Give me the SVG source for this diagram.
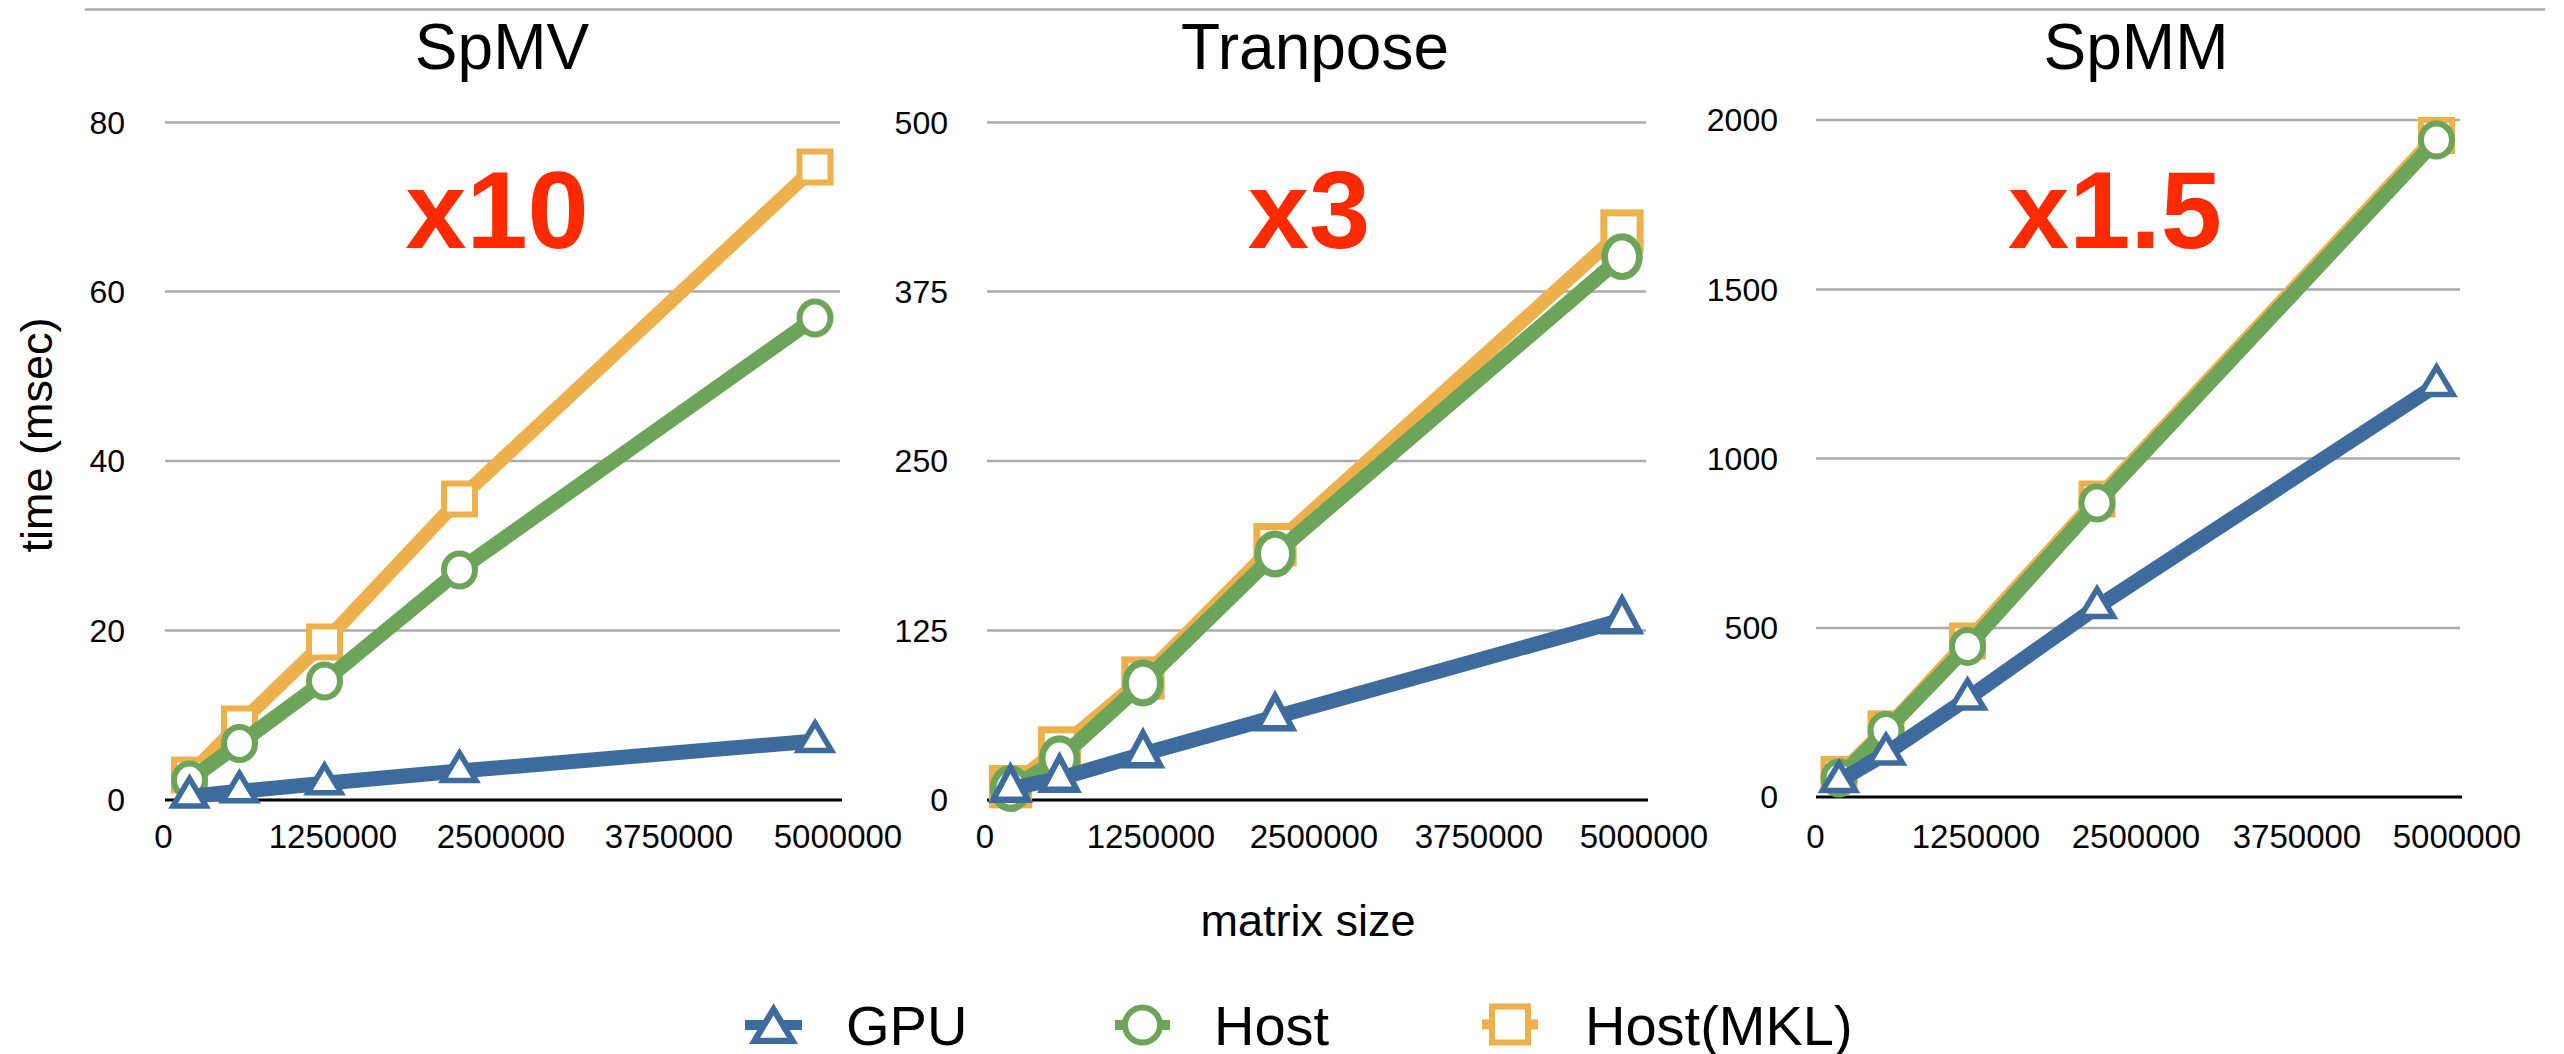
<svg xmlns="http://www.w3.org/2000/svg" xmlns:xlink="http://www.w3.org/1999/xlink" width="2564" height="1054" viewBox="0 0 2564 1054">
  <style>
    text { font-family: "Liberation Sans", Arial, Helvetica, sans-serif; fill: #000; }
    .title { font-size: 64px; text-anchor: middle; }
    .ytick { font-size: 32px; text-anchor: end; }
    .xtick { font-size: 33px; text-anchor: middle; }
    .axislabel { font-size: 45px; text-anchor: middle; }
    .speedup { font-size: 110px; font-weight: bold; fill: #FF2A00; text-anchor: middle; }
    .legend { font-size: 56px; }
    .grid { stroke: #ABABAB; stroke-width: 2.5; fill: none; }
    .axis { stroke: #000; stroke-width: 3; fill: none; }
    .frame { stroke: #ABABAB; stroke-width: 2.5; fill: none; }
    .l-mkl { stroke: #EDB04B; stroke-width: 14; fill: none; stroke-linejoin: round; }
    .l-host { stroke: #6CA559; stroke-width: 15; fill: none; stroke-linejoin: round; }
    .l-gpu { stroke: #3D6B9D; stroke-width: 15; fill: none; stroke-linejoin: round; }
    .m-mkl { fill: #fff; stroke: #EDB04B; stroke-width: 6; }
    .m-host { fill: #fff; stroke: #6CA559; stroke-width: 6; }
    .m-gpu { fill: #fff; stroke: #3D6B9D; stroke-width: 5.5; stroke-linejoin: miter; }
  </style>
  <defs>
    <rect id="sq" x="-15.5" y="-15.5" width="31" height="31"/>
    <ellipse id="dot" rx="15.5" ry="16.5"/>
    <path id="tri" d="M0,-18 L16.5,9.5 L-16.5,9.5 Z"/>
  </defs>

  <rect width="2564" height="1054" fill="#fff"/>
  <line class="frame" x1="85" y1="9.5" x2="2545" y2="9.5"/>

  <!-- Panel 1: SpMV -->
  <g id="panel-spmv">
    <text class="title" x="502" y="69">SpMV</text>
    <g id="spmv-grid">
      <line class="grid" x1="165" y1="122.5" x2="840" y2="122.5"/>
      <line class="grid" x1="165" y1="291.5" x2="840" y2="291.5"/>
      <line class="grid" x1="165" y1="461" x2="840" y2="461"/>
      <line class="grid" x1="165" y1="630.5" x2="840" y2="630.5"/>
      <line class="axis" x1="165" y1="800" x2="842" y2="800"/>
    </g>
    <g id="spmv-yticks">
      <text class="ytick" x="125" y="133.5">80</text>
      <text class="ytick" x="125" y="302.5">60</text>
      <text class="ytick" x="125" y="472">40</text>
      <text class="ytick" x="125" y="641.5">20</text>
      <text class="ytick" x="125" y="811">0</text>
    </g>
    <g id="spmv-xticks">
      <text class="xtick" x="163.5" y="848">0</text>
      <text class="xtick" x="333" y="848">1250000</text>
      <text class="xtick" x="501" y="848">2500000</text>
      <text class="xtick" x="669" y="848">3750000</text>
      <text class="xtick" x="838" y="848">5000000</text>
    </g>
    <text class="speedup" x="497" y="248">x10</text>
    <g id="spmv-mkl">
      <polyline class="l-mkl" points="189.5,775 239.5,724 324.5,642 459.5,499 815,167"/>
      <use xlink:href="#sq" class="m-mkl" x="189.5" y="775"/>
      <use xlink:href="#sq" class="m-mkl" x="239.5" y="724"/>
      <use xlink:href="#sq" class="m-mkl" x="324.5" y="642"/>
      <use xlink:href="#sq" class="m-mkl" x="459.5" y="499"/>
      <use xlink:href="#sq" class="m-mkl" x="815" y="167"/>
    </g>
    <g id="spmv-host">
      <polyline class="l-host" points="189.5,780 239.5,743.5 324.5,681 459.5,570 815,318"/>
      <use xlink:href="#dot" class="m-host" x="189.5" y="780"/>
      <use xlink:href="#dot" class="m-host" x="239.5" y="743.5"/>
      <use xlink:href="#dot" class="m-host" x="324.5" y="681"/>
      <use xlink:href="#dot" class="m-host" x="459.5" y="570"/>
      <use xlink:href="#dot" class="m-host" x="815" y="318"/>
    </g>
    <g id="spmv-gpu">
      <polyline class="l-gpu" points="189.5,796.5 239.5,791.3 324.5,783.3 459.5,771 815,741"/>
      <use xlink:href="#tri" class="m-gpu" x="189.5" y="796.5"/>
      <use xlink:href="#tri" class="m-gpu" x="239.5" y="791.3"/>
      <use xlink:href="#tri" class="m-gpu" x="324.5" y="783.3"/>
      <use xlink:href="#tri" class="m-gpu" x="459.5" y="771"/>
      <use xlink:href="#tri" class="m-gpu" x="815" y="741"/>
    </g>
  </g>

  <!-- Panel 2: Tranpose (slightly larger markers) -->
  <g id="panel-transpose">
    <text class="title" x="1315" y="69">Tranpose</text>
    <g id="transpose-grid">
      <line class="grid" x1="987" y1="122.5" x2="1646" y2="122.5"/>
      <line class="grid" x1="987" y1="291.5" x2="1646" y2="291.5"/>
      <line class="grid" x1="987" y1="461" x2="1646" y2="461"/>
      <line class="grid" x1="987" y1="630.5" x2="1646" y2="630.5"/>
      <line class="axis" x1="987" y1="800" x2="1648" y2="800"/>
    </g>
    <g id="transpose-yticks">
      <text class="ytick" x="948" y="133.5">500</text>
      <text class="ytick" x="948" y="302.5">375</text>
      <text class="ytick" x="948" y="472">250</text>
      <text class="ytick" x="948" y="641.5">125</text>
      <text class="ytick" x="948" y="811">0</text>
    </g>
    <g id="transpose-xticks">
      <text class="xtick" x="985" y="848">0</text>
      <text class="xtick" x="1151" y="848">1250000</text>
      <text class="xtick" x="1314" y="848">2500000</text>
      <text class="xtick" x="1479" y="848">3750000</text>
      <text class="xtick" x="1644" y="848">5000000</text>
    </g>
    <text class="speedup" x="1309" y="248">x3</text>
    <g id="transpose-mkl">
      <polyline class="l-mkl" points="1010.5,786.7 1059.5,748 1143,678 1275,544.7 1622,231"/>
      <use xlink:href="#sq" class="m-mkl" transform="translate(1010.5,786.7) scale(1.17)"/>
      <use xlink:href="#sq" class="m-mkl" transform="translate(1059.5,748) scale(1.17)"/>
      <use xlink:href="#sq" class="m-mkl" transform="translate(1143,678) scale(1.17)"/>
      <use xlink:href="#sq" class="m-mkl" transform="translate(1275,544.7) scale(1.17)"/>
      <use xlink:href="#sq" class="m-mkl" transform="translate(1622,231) scale(1.17)"/>
    </g>
    <g id="transpose-host">
      <polyline class="l-host" points="1010.5,788.5 1059.5,758.7 1143,683 1275,554 1622,256.7"/>
      <use xlink:href="#dot" class="m-host" transform="translate(1010.5,788.5) scale(1.12,1.2)"/>
      <use xlink:href="#dot" class="m-host" transform="translate(1059.5,758.7) scale(1.12,1.2)"/>
      <use xlink:href="#dot" class="m-host" transform="translate(1143,683) scale(1.12,1.2)"/>
      <use xlink:href="#dot" class="m-host" transform="translate(1275,554) scale(1.12,1.2)"/>
      <use xlink:href="#dot" class="m-host" transform="translate(1622,256.7) scale(1.12,1.2)"/>
    </g>
    <g id="transpose-gpu">
      <polyline class="l-gpu" points="1010.5,788.5 1059.5,778.5 1143,754 1275,717 1622,620"/>
      <use xlink:href="#tri" class="m-gpu" transform="translate(1010.5,788.5) scale(1.05,1.18)"/>
      <use xlink:href="#tri" class="m-gpu" transform="translate(1059.5,778.5) scale(1.05,1.18)"/>
      <use xlink:href="#tri" class="m-gpu" transform="translate(1143,754) scale(1.05,1.18)"/>
      <use xlink:href="#tri" class="m-gpu" transform="translate(1275,717) scale(1.05,1.18)"/>
      <use xlink:href="#tri" class="m-gpu" transform="translate(1622,620) scale(1.05,1.18)"/>
    </g>
  </g>

  <!-- Panel 3: SpMM -->
  <g id="panel-spmm">
    <text class="title" x="2136" y="69">SpMM</text>
    <g id="spmm-grid">
      <line class="grid" x1="1816" y1="120" x2="2460" y2="120"/>
      <line class="grid" x1="1816" y1="289.5" x2="2460" y2="289.5"/>
      <line class="grid" x1="1816" y1="458.5" x2="2460" y2="458.5"/>
      <line class="grid" x1="1816" y1="628" x2="2460" y2="628"/>
      <line class="axis" x1="1816" y1="797" x2="2462" y2="797"/>
    </g>
    <g id="spmm-yticks">
      <text class="ytick" x="1778" y="131">2000</text>
      <text class="ytick" x="1778" y="300.5">1500</text>
      <text class="ytick" x="1778" y="469.5">1000</text>
      <text class="ytick" x="1778" y="639">500</text>
      <text class="ytick" x="1778" y="808">0</text>
    </g>
    <g id="spmm-xticks">
      <text class="xtick" x="1815.5" y="848">0</text>
      <text class="xtick" x="1976" y="848">1250000</text>
      <text class="xtick" x="2136" y="848">2500000</text>
      <text class="xtick" x="2297" y="848">3750000</text>
      <text class="xtick" x="2457" y="848">5000000</text>
    </g>
    <text class="speedup" x="2115" y="248">x1.5</text>
    <g id="spmm-mkl">
      <polyline class="l-mkl" points="1839,774.5 1886,728.8 1967.5,641 2097,499 2436.5,135.5"/>
      <use xlink:href="#sq" class="m-mkl" x="1839" y="774.5"/>
      <use xlink:href="#sq" class="m-mkl" x="1886" y="728.8"/>
      <use xlink:href="#sq" class="m-mkl" x="1967.5" y="641"/>
      <use xlink:href="#sq" class="m-mkl" x="2097" y="499"/>
      <use xlink:href="#sq" class="m-mkl" x="2436.5" y="135.5"/>
    </g>
    <g id="spmm-host">
      <polyline class="l-host" points="1839,778 1886,730.6 1967.5,646.4 2097,503 2436.5,140"/>
      <use xlink:href="#dot" class="m-host" x="1839" y="778"/>
      <use xlink:href="#dot" class="m-host" x="1886" y="730.6"/>
      <use xlink:href="#dot" class="m-host" x="1967.5" y="646.4"/>
      <use xlink:href="#dot" class="m-host" x="2097" y="503"/>
      <use xlink:href="#dot" class="m-host" x="2436.5" y="140"/>
    </g>
    <g id="spmm-gpu">
      <polyline class="l-gpu" points="1839,781 1886,753.5 1967.5,698.5 2097,607 2436.5,385"/>
      <use xlink:href="#tri" class="m-gpu" x="1839" y="781"/>
      <use xlink:href="#tri" class="m-gpu" x="1886" y="753.5"/>
      <use xlink:href="#tri" class="m-gpu" x="1967.5" y="698.5"/>
      <use xlink:href="#tri" class="m-gpu" x="2097" y="607"/>
      <use xlink:href="#tri" class="m-gpu" x="2436.5" y="385"/>
    </g>
  </g>

  <!-- Shared axis titles -->
  <text class="axislabel" transform="translate(52,435) rotate(-90)">time (msec)</text>
  <text class="axislabel" x="1308" y="936">matrix size</text>

  <!-- Legend -->
  <g id="legend">
    <g id="legend-gpu">
      <line x1="745" y1="1025" x2="802" y2="1025" stroke="#3D6B9D" stroke-width="10"/>
      <use xlink:href="#tri" class="m-gpu" transform="translate(773.5,1030) scale(1.15)"/>
      <text class="legend" x="846" y="1045">GPU</text>
    </g>
    <g id="legend-host">
      <line x1="1115" y1="1025" x2="1170" y2="1025" stroke="#6CA559" stroke-width="10"/>
      <circle cx="1142.5" cy="1025" r="17.5" class="m-host" stroke-width="6.5"/>
      <text class="legend" x="1214" y="1045">Host</text>
    </g>
    <g id="legend-mkl">
      <line x1="1482" y1="1024.5" x2="1538" y2="1024.5" stroke="#EDB04B" stroke-width="10"/>
      <rect x="1492" y="1006.5" width="36" height="36" class="m-mkl" stroke-width="7"/>
      <text class="legend" x="1585" y="1045">Host(MKL)</text>
    </g>
  </g>
</svg>
